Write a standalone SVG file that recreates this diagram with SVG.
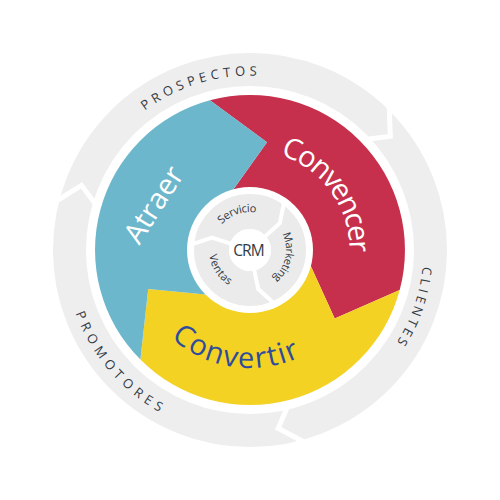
<svg xmlns="http://www.w3.org/2000/svg" xmlns:xlink="http://www.w3.org/1999/xlink" width="500" height="500" viewBox="0 0 500 500">
  <style>
    .ring { fill: none; stroke: #eeeeee; }
    .sep { fill: none; stroke: #ffffff; stroke-linejoin: miter; }
    .outer-t { font-family: "Open Sans", "Liberation Sans", sans-serif; font-size: 13px; fill: #323a44; }
    .big { font-family: "Open Sans", "Liberation Sans", sans-serif; font-size: 29px; }
    .inner-t { font-family: "Open Sans", "Liberation Sans", sans-serif; font-size: 11px; fill: #323a44; }
  </style>
  <defs>
    <path id="p-prospectos" d="M 82 300.4 A 175.4 175.4 0 0 1 418 199.6"/>
    <path id="p-clientes" d="M 307.9 85.6 A 174.3 174.3 0 0 1 192.1 414.4"/>
    <path id="p-promotores" d="M 127.9 110.2 A 185.6 185.6 0 0 0 372.1 389.8"/>
    <path id="p-convencer" d="M 191.5 169.5 A 99.5 99.5 0 0 1 308.5 330.5"/>
    <path id="p-convertir" d="M 133.1 233.6 A 118 118 0 0 0 366.9 266.4"/>
    <path id="p-servicio" d="M 217.3 230.6 A 38 38 0 0 1 263.4 214.5"/>
    <path id="p-marketing" d="M 280.2 230.4 A 36 36 0 0 1 269.6 280.2"/>
    <path id="p-ventas" d="M 209.3 245.2 A 41 41 0 0 0 238.2 289.3"/>
    <polyline id="outer-chev" points="389.1,103.5 390.3,136.4 364.4,139.5"/>
    <polyline id="inner-chev" points="190.2,244.8 212.0,237.6 232.9,244.4"/>
  </defs>
  <rect width="500" height="500" fill="#ffffff"/>

  <g id="outer-ring">
    <circle class="ring" cx="250" cy="250" r="180.5" stroke-width="33"/>
  </g>
  <g id="connectors">
    <use href="#outer-chev" class="sep" stroke-width="5"/>
    <use href="#outer-chev" class="sep" stroke-width="5" transform="rotate(120 250 250)"/>
    <use href="#outer-chev" class="sep" stroke-width="5" transform="rotate(240 250 250)"/>
  </g>
  <g id="label-prospectos">
    <text class="outer-t" letter-spacing="4.3"><textPath href="#p-prospectos" startOffset="50%" text-anchor="middle">PROSPECTOS</textPath></text>
  </g>
  <g id="label-clientes">
    <text class="outer-t" letter-spacing="3.4"><textPath href="#p-clientes" startOffset="50%" text-anchor="middle">CLIENTES</textPath></text>
  </g>
  <g id="label-promotores">
    <text class="outer-t" letter-spacing="5"><textPath href="#p-promotores" startOffset="50%" text-anchor="middle">PROMOTORES</textPath></text>
  </g>

  <g id="node-convencer">
    <path fill="#c6304c" d="M 209.9 100.3 A 155 155 0 0 1 399.7 290.1 L 334.7 318.6 L 310.9 266.3 L 250 250 L 233.7 189.1 L 267.0 142.3 Z"/>
    <text class="big" fill="#ffffff" letter-spacing="-2"><textPath href="#p-convencer" startOffset="50%" text-anchor="middle">Convencer</textPath></text>
  </g>
  <g id="node-convertir">
    <path fill="#f4d224" d="M 399.7 290.1 A 155 155 0 0 1 140.4 359.6 L 148.2 289.1 L 205.5 294.5 L 250 250 L 310.9 266.3 L 334.7 318.6 Z"/>
    <text class="big" fill="#2e4c9c" letter-spacing="1.6"><textPath href="#p-convertir" startOffset="50%" text-anchor="middle">Convertir</textPath></text>
  </g>
  <g id="node-atraer">
    <path fill="#6db7cc" d="M 140.4 359.6 A 155 155 0 0 1 209.9 100.3 L 267.0 142.3 L 233.7 189.1 L 250 250 L 205.5 294.5 L 148.2 289.1 Z"/>
    <text class="big" fill="#ffffff" x="162" y="210" text-anchor="middle" transform="rotate(-57.4 162 210)">Atraer</text>
  </g>

  <g id="node-crm">
    <circle cx="250" cy="250" r="63" fill="#ffffff"/>
    <circle cx="250" cy="250" r="38.5" fill="none" stroke="#ebebeb" stroke-width="35"/>
    <use href="#inner-chev" class="sep" stroke-width="4"/>
    <use href="#inner-chev" class="sep" stroke-width="4" transform="rotate(120 250 250)"/>
    <use href="#inner-chev" class="sep" stroke-width="4" transform="rotate(240 250 250)"/>
    <circle cx="250" cy="250" r="21" fill="#ffffff"/>
    <text x="248.5" y="256" text-anchor="middle" font-family="'Open Sans', 'Liberation Sans', sans-serif" font-size="15.5" letter-spacing="-1" fill="#323a44">CRM</text>
  </g>
  <g id="node-servicio">
    <text class="inner-t" letter-spacing="-0.3"><textPath href="#p-servicio" startOffset="50%" text-anchor="middle">Servicio</textPath></text>
  </g>
  <g id="node-marketing">
    <text class="inner-t" letter-spacing="-0.4"><textPath href="#p-marketing" startOffset="50%" text-anchor="middle">Marketing</textPath></text>
  </g>
  <g id="node-ventas">
    <text class="inner-t" letter-spacing="0.5"><textPath href="#p-ventas" startOffset="50%" text-anchor="middle">Ventas</textPath></text>
  </g>
</svg>
